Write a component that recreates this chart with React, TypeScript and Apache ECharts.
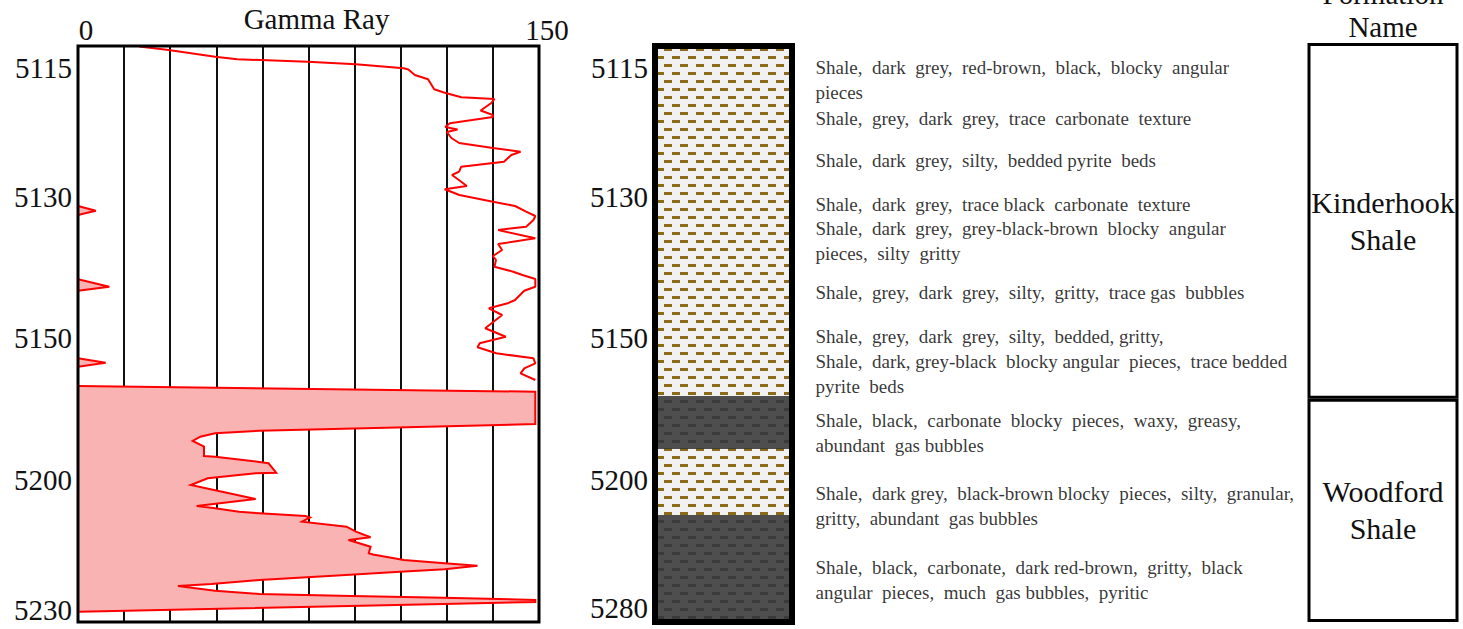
import React, { useEffect, useRef } from 'react';
import * as echarts from 'echarts';

const FONT = "'Liberation Serif', 'Times New Roman', serif";

// Depth track labels (placed at their position along the log, 0 = top of track, 576 = bottom)
const depthLabels = ['5115', '5130', '5150', '5200', '5230'];
const depthLabelPos = [22, 151, 292, 434, 564];
const lithoDepthLabels = ['5115', '5130', '5150', '5200', '5280'];
const lithoDepthLabelPos = [22, 151, 292, 434, 562];

const grTickLabels = [0, 150];

// Gamma ray curve, upper (Kinderhook) section: API value and track position
const upperGR = [19.9, 29.5, 44.6, 51.8, 74.7, 90.4, 106, 107.5, 109.6, 113.9, 115.9, 119.3, 124.7, 135.5, 134.5, 131, 135, 135,
  121, 119.5, 123.5, 120, 121.5, 124, 135, 144, 141, 138.6, 124.7, 124, 121.7, 124.7, 126.5, 119.3, 124.1, 135, 142.2, 145.8,
  148.8, 148.2, 145.8, 136.7, 148.8, 136.7, 138, 135, 136, 135.5, 141.6, 144.6, 148.8, 148.8, 145.2, 142.2, 139.8, 133.7, 138,
  132.5, 139.2, 130.7, 130, 136.1, 148.2, 148.8, 145.2, 144, 148.8];
const upperPos = [0.5, 4, 10.7, 13.3, 15.7, 18.3, 22.3, 23.5, 29, 33.3, 43.3, 46.7, 51.3, 53, 57, 64.5, 69, 71,
  77.3, 81, 83.5, 86, 92, 97, 102, 105.7, 109, 115.7, 120.7, 125.7, 129, 135.7, 140, 143.3, 149, 155.7, 160, 165.7,
  170, 174, 180.7, 184, 192.3, 198, 204, 210, 214, 220.7, 225.7, 229, 233, 240.7, 244.7, 254, 257.3, 262.3, 269,
  282.3, 290.7, 297.3, 301.3, 307.3, 312.3, 317.3, 322.3, 327.3, 334];

// Wrapped (>150 API) section, Woodford, drawn with shading from the left edge
const lowerGR = [0, 148.8, 148.8, 107, 59, 44.6, 39.8, 37.3, 41, 41, 44.6, 58.4, 62, 64.5, 57.8, 42.2, 36.7, 57.8, 38.6, 44,
  52.4, 59, 74, 75.5, 72.9, 87.4, 90.4, 95.2, 88, 95.2, 94.6, 96, 106, 119.3, 130, 119.3, 104.8, 83, 59, 43.4, 32.5, 44.6,
  59, 89, 119, 148.8, 148.8, 119, 0.4];
const lowerPos = [340, 345.7, 378, 381.3, 384.7, 387.3, 390.7, 395, 400.7, 410, 410.7, 415.7, 417.3, 426.7, 427.3, 432.3, 439, 453, 460, 462,
  465.7, 467.3, 470, 471.5, 475.7, 480.7, 485.7, 491.3, 494, 500.7, 507.3, 508.5, 514, 517.3, 519.7, 523.3, 525.7, 529.7, 534, 538, 540, 544.7,
  548, 550, 551.7, 554, 556, 558, 565.7];

// Small wrapped spikes in the upper section
const spike1GR = [0, 5.8, 0];
const spike1Pos = [160, 164.7, 169];
const spike2GR = [0, 10.2, 0];
const spike2Pos = [233.3, 240.7, 244.7];
const spike3GR = [0, 9, 0];
const spike3Pos = [312.3, 316.7, 320.7];

// Lithology column
const lithoNames = ['Shale (grey)', 'Shale (black)', 'Shale (grey)', 'Shale (black)'];
const lithoKinds = ['light', 'dark', 'light', 'dark'];
const lithoTop = [0, 350, 403, 469];
const lithoBase = [350, 403, 469, 576];

// Sample descriptions
const descriptions = [
  'Shale,  dark  grey,  red-brown,  black,  blocky  angular\npieces',
  'Shale,  grey,  dark  grey,  trace  carbonate  texture',
  'Shale,  dark  grey,  silty,  bedded pyrite  beds',
  'Shale,  dark  grey,  trace black  carbonate  texture',
  'Shale,  dark  grey,  grey-black-brown  blocky  angular\npieces,  silty  gritty',
  'Shale,  grey,  dark  grey,  silty,  gritty,  trace gas  bubbles',
  'Shale,  grey,  dark  grey,  silty,  bedded, gritty,\nShale,  dark, grey-black  blocky angular  pieces,  trace bedded\npyrite  beds',
  'Shale,  black,  carbonate  blocky  pieces,  waxy,  greasy,\nabundant  gas bubbles',
  'Shale,  dark grey,  black-brown blocky  pieces,  silty,  granular,\ngritty,  abundant  gas bubbles',
  'Shale,  black,  carbonate,  dark red-brown,  gritty,  black\nangular  pieces,  much  gas bubbles,  pyritic',
];
const descriptionPos = [33.5, 72, 114, 158, 195, 246, 315, 386.5, 460, 533.5];

// Formations
const formationNames = ['Kinderhook\nShale', 'Woodford\nShale'];
const formationTop = [0, 354];
const formationBase = [354, 576];

const TRACK_MAX = 576;

function fillSeries(gr: number[], pos: number[]) {
  const data = gr.map((g, i) => [g, pos[i]]);
  return {
    type: 'custom',
    xAxisIndex: 0,
    yAxisIndex: 0,
    data,
    silent: true,
    z: 3,
    renderItem: (params: any, api: any) => {
      if (params.dataIndex !== 0) return null;
      const pts = data.map((d) => api.coord(d));
      const b0 = api.coord([0, data[0][1]]);
      const b1 = api.coord([0, data[data.length - 1][1]]);
      return {
        type: 'group',
        children: [
          { type: 'polygon', shape: { points: [b0, ...pts, b1] }, style: { fill: '#f9b3b3', stroke: null } },
          { type: 'polyline', shape: { points: pts }, style: { stroke: '#ff0000', lineWidth: 2, fill: null } },
        ],
      };
    },
  };
}

const labelStyle = { fontFamily: FONT, fontSize: 29, color: '#111' };

export default function App() {
  const ref = useRef<HTMLDivElement>(null);
  useEffect(() => {
    if (!ref.current) return;
    const chart = echarts.init(ref.current, null, { renderer: 'svg' });
    const lightDecal = {
      symbol: 'rect',
      symbolSize: 1,
      dashArrayX: [[8, 8], [0, 8, 8, 0]],
      dashArrayY: [3, 5],
      color: '#8b6b17',
      rotation: 0,
    };
    const darkDecal = { ...lightDecal, color: '#3b3b3b' };

    const option: any = {
      animation: false,
      backgroundColor: '#ffffff',
      grid: [
        { left: 78, top: 46, width: 461, height: 576, show: true, borderColor: '#000', borderWidth: 3, z: 5, outerBoundsMode: 'none', containLabel: false },
        { left: 655, top: 46, width: 137, height: 576, show: true, borderColor: '#000', borderWidth: 6, z: 5, outerBoundsMode: 'none', containLabel: false },
        { left: 815, top: 46, width: 490, height: 576, show: false, outerBoundsMode: 'none', containLabel: false },
        { left: 1307.5, top: 43, width: 151, height: 579, show: false, outerBoundsMode: 'none', containLabel: false },
      ],
      xAxis: [
        {
          gridIndex: 0, type: 'value', position: 'top', min: 0, max: 150, interval: 15,
          axisLine: { show: false }, axisTick: { show: false },
          splitLine: { show: true, lineStyle: { color: '#111', width: 2 } },
          axisLabel: { customValues: grTickLabels, margin: 2, padding: [0, 0, 0, 16], ...labelStyle },
          name: 'Gamma Ray', nameLocation: 'middle', nameGap: 13, nameMoveOverlap: false,
          nameTextStyle: { ...labelStyle, padding: [0, 0, 0, 16] },
        },
        { gridIndex: 1, type: 'category', data: ['lithology'], show: false },
        { gridIndex: 2, type: 'value', min: 0, max: 1, show: false },
        {
          gridIndex: 3, type: 'category', data: ['formation'], position: 'top',
          axisLine: { show: false }, axisTick: { show: false }, axisLabel: { show: false },
          name: 'Formation\nName', nameLocation: 'middle', nameGap: 0, nameMoveOverlap: false,
          nameTextStyle: { ...labelStyle, lineHeight: 33 },
        },
      ],
      yAxis: [
        {
          gridIndex: 0, type: 'value', inverse: true, min: 0, max: TRACK_MAX,
          axisLine: { show: false }, axisTick: { show: false }, splitLine: { show: false },
          axisLabel: {
            customValues: depthLabelPos, margin: 6, ...labelStyle,
            formatter: (v: number) => depthLabels[depthLabelPos.indexOf(v)] ?? '',
          },
        },
        {
          gridIndex: 1, type: 'value', inverse: true, min: 0, max: TRACK_MAX,
          axisLine: { show: false }, axisTick: { show: false }, splitLine: { show: false },
          axisLabel: {
            customValues: lithoDepthLabelPos, margin: 7, ...labelStyle,
            formatter: (v: number) => lithoDepthLabels[lithoDepthLabelPos.indexOf(v)] ?? '',
          },
        },
        { gridIndex: 2, type: 'value', inverse: true, min: 0, max: TRACK_MAX, show: false },
        { gridIndex: 3, type: 'value', inverse: true, min: 0, max: TRACK_MAX, show: false },
      ],
      series: [
        {
          type: 'line', xAxisIndex: 0, yAxisIndex: 0, silent: true, z: 4,
          data: upperGR.map((g, i) => [g, upperPos[i]]),
          showSymbol: false, symbol: 'none',
          lineStyle: { color: '#ff0000', width: 2 },
        },
        fillSeries(lowerGR, lowerPos),
        fillSeries(spike1GR, spike1Pos),
        fillSeries(spike2GR, spike2Pos),
        fillSeries(spike3GR, spike3Pos),
        ...lithoKinds.map((k, i) => ({
          type: 'bar', name: lithoNames[i], xAxisIndex: 1, yAxisIndex: 1, stack: 'litho', barWidth: '100%', silent: true,
          data: [lithoBase[i] - lithoTop[i]],
          itemStyle: { color: k === 'light' ? '#f1f1f1' : '#4e4e4e', decal: k === 'light' ? lightDecal : darkDecal },
        })),
        {
          type: 'scatter', xAxisIndex: 2, yAxisIndex: 2, silent: true,
          data: descriptionPos.map((p) => [0, p]),
          symbolSize: 1, itemStyle: { color: 'rgba(0,0,0,0)' },
          label: {
            show: true, position: 'right', distance: 0, align: 'left',
            formatter: (p: any) => descriptions[p.dataIndex],
            fontFamily: FONT, fontSize: 19, lineHeight: 25, color: '#000',
          },
        },
        ...formationNames.map((n, i) => ({
          type: 'bar', name: n, xAxisIndex: 3, yAxisIndex: 3, stack: 'formation', barWidth: '100%', silent: true,
          data: [formationBase[i] - formationTop[i]],
          itemStyle: { color: '#ffffff', borderColor: '#000', borderWidth: 3 },
          label: { show: true, position: 'inside', formatter: n, ...labelStyle, fontSize: 30, lineHeight: 37 },
        })),
      ],
    };
    chart.setOption(option);
    return () => chart.dispose();
  }, []);
  return <div ref={ref} style={{ position: 'fixed', left: 0, top: 0, width: 1463, height: 629 }} />;
}
